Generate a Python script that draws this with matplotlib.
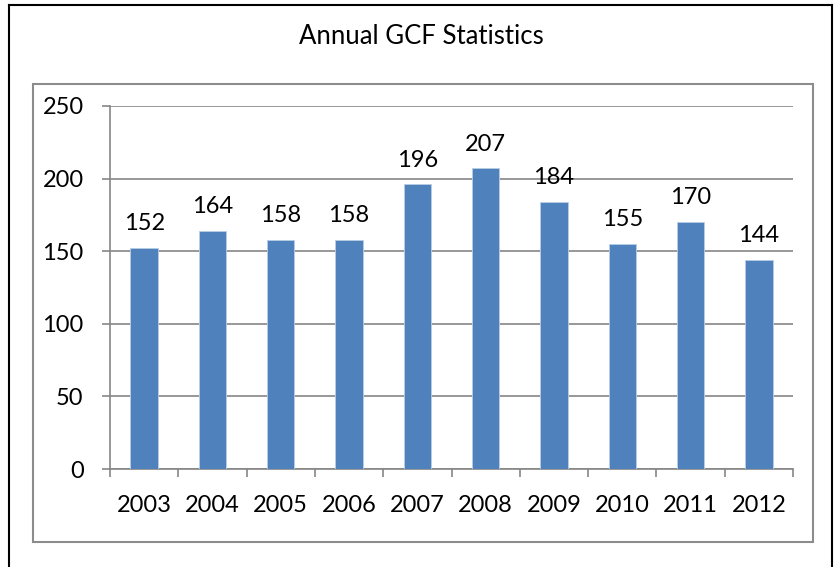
import matplotlib
matplotlib.use("Agg")
import matplotlib.pyplot as plt
from matplotlib.patches import Rectangle

years = ["2003", "2004", "2005", "2006", "2007", "2008", "2009", "2010", "2011", "2012"]
counts = [152, 164, 158, 158, 196, 207, 184, 155, 170, 144]
yticks = [0, 50, 100, 150, 200, 250]
title = "Annual GCF Statistics"

plt.rcParams['font.family'] = ['Lato', 'DejaVu Sans']

W, H = 835, 567
fig = plt.figure(figsize=(W / 100, H / 100), dpi=100)
fig.patch.set_facecolor("white")

def px(x0, y0, x1, y1):
    return [x0 / W, 1 - y1 / H, (x1 - x0) / W, (y1 - y0) / H]

# outer black frame (open at bottom)
fig.add_artist(plt.Line2D([9 / W, 9 / W], [0, 1 - 5 / H], color="black", lw=1.5, transform=fig.transFigure))
fig.add_artist(plt.Line2D([9 / W, 832 / W], [1 - 5 / H, 1 - 5 / H], color="black", lw=1.5, transform=fig.transFigure))
fig.add_artist(plt.Line2D([832 / W, 832 / W], [0, 1 - 5 / H], color="black", lw=1.5, transform=fig.transFigure))

# inner gray box
b = px(33, 84, 813, 542)
fig.add_artist(Rectangle((b[0], b[1]), b[2], b[3], transform=fig.transFigure,
                         fill=False, edgecolor="#8c8c8c", lw=1.5))

fig.text(421 / W, 1 - 36 / H, title, ha="center", va="center", fontsize=18.5, color="black")

ax = fig.add_axes(px(110, 106, 793, 469))
x = list(range(len(years)))
bars = ax.bar(x, counts, width=0.4, color="#4F81BD", edgecolor="#b9cde5", linewidth=0.6, zorder=3)
ax.set_xlim(-0.5, len(years) - 0.5)
ax.set_ylim(0, 250)
ax.set_yticks(yticks)
ax.set_yticklabels([str(v) for v in yticks])
ax.yaxis.grid(True, color="#868686", lw=1.2, zorder=0)
ax.set_xticks(x)
ax.set_xticklabels(years)
ax.set_xticks([i - 0.5 for i in range(len(years) + 1)], minor=True)
ax.tick_params(axis="x", which="major", length=0, pad=19, labelsize=17)
ax.tick_params(axis="x", which="minor", length=6, width=1.2, color="#868686", direction="out")
ax.tick_params(axis="y", length=6, width=1.2, color="#868686", pad=13, labelsize=17)
for s in ["top", "right"]:
    ax.spines[s].set_visible(False)
for s in ["left", "bottom"]:
    ax.spines[s].set_color("#868686")
    ax.spines[s].set_linewidth(1.2)

for xi, v in zip(x, counts):
    ax.annotate(str(v), (xi, v), xytext=(0, 10), textcoords="offset points",
                ha="center", va="bottom", fontsize=17)

fig.savefig("out.png", dpi=100)
